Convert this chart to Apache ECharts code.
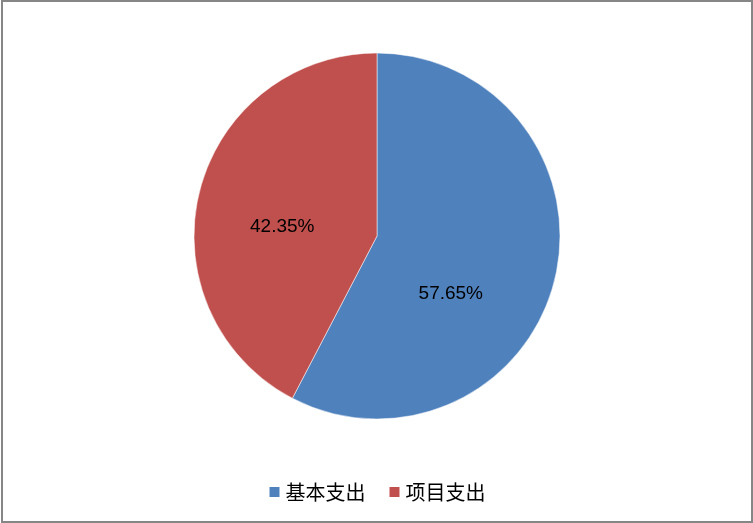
<!DOCTYPE html>
<html>
<head>
<meta charset="utf-8">
<script src="https://cdn.jsdelivr.net/npm/echarts@6/dist/echarts.min.js"></script>
<style>
html,body{margin:0;padding:0;background:#fff;}
#frame{position:absolute;left:1px;top:0;width:752px;height:523px;box-sizing:border-box;border:2px solid #868686;}
#chart{position:absolute;left:0;top:0;width:753px;height:523px;}
</style>
</head>
<body>
<div id="frame"></div>
<div id="chart"></div>
<script>
var categories = ['基本支出', '项目支出'];
var values = [57.65, 42.35];
var colors = ['#4F81BD', '#C0504D'];
var labelOffsets = [[-18, 35], [-3, 13]];

var chart = echarts.init(document.getElementById('chart'));
chart.setOption({
  animation: false,
  legend: {
    data: categories,
    top: 477,
    left: 'center',
    itemWidth: 12,
    itemHeight: 12,
    itemGap: 22,
    icon: 'rect',
    textStyle: {fontFamily: 'Noto Sans CJK SC', fontSize: 20, color: '#000'}
  },
  series: [{
    type: 'pie',
    center: [377, 236],
    radius: 183,
    startAngle: 90,
    clockwise: true,
    itemStyle: {borderColor: '#fff', borderWidth: 0.5},
    label: {
      position: 'inside',
      formatter: function (p) { return p.value.toFixed(2) + '%'; },
      fontFamily: 'Liberation Sans',
      fontSize: 19,
      color: '#000'
    },
    labelLine: {show: false},
    data: categories.map(function (c, i) {
      return {name: c, value: values[i], itemStyle: {color: colors[i]}, label: {offset: labelOffsets[i]}};
    })
  }]
});
</script>
</body>
</html>
